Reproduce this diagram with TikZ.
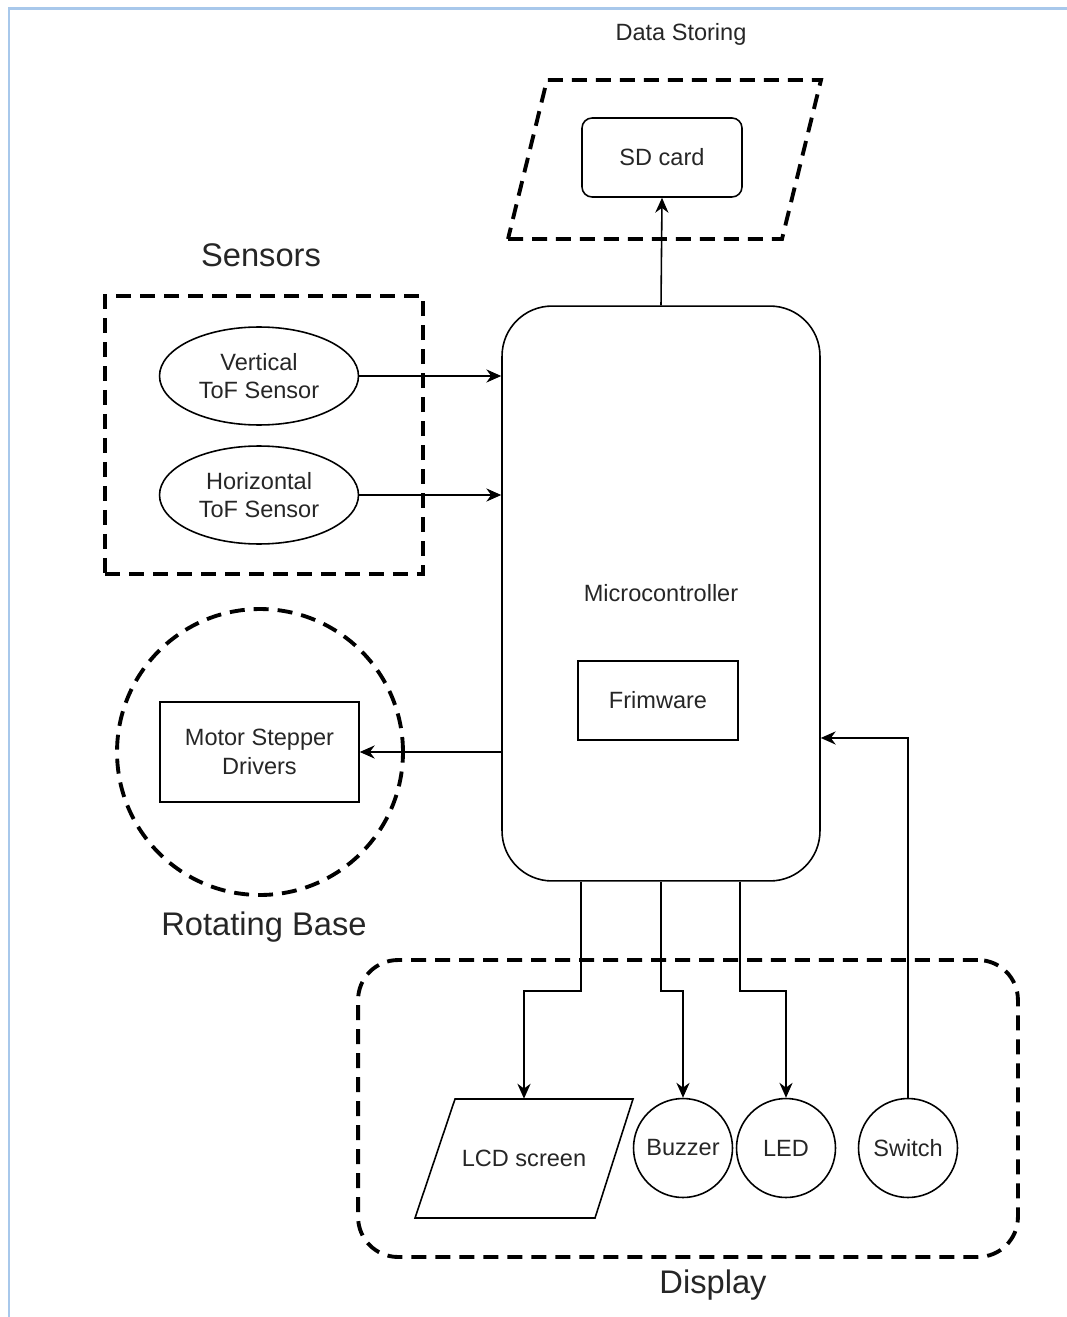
\documentclass[tikz,border=0pt]{standalone}
\usepackage{fontspec}
\setmainfont{Liberation Sans}
\usetikzlibrary{arrows.meta,shapes.geometric}

\begin{document}
\begin{tikzpicture}[x=0.02cm, y=-0.02cm, >={Stealth[length=8.5pt,width=7.5pt]},
  txt/.style={font=\fontsize{13.4}{16.4}\selectfont, align=center, text=black!85},
  bigtxt/.style={font=\fontsize{18.6}{22}\selectfont, text=black!85},
  part/.style={draw, line width=0.9pt, inner sep=0pt, txt},
  grp/.style={draw, line width=2.2pt, dash pattern=on 0.3cm off 0.18cm, inner sep=0pt},
  wire/.style={line width=0.9pt}]

\definecolor{framecolor}{RGB}{168, 200, 235}

\useasboundingbox (0, 0) rectangle (1067, 1317);
\draw[framecolor, line width=0.06cm] (9, 1317) -- (9, 9) -- (1067, 9);

\node[txt] (datalbl) at (681, 34) {Data Storing};
\draw[grp] (508, 239) -- (782, 239) -- (821, 80) -- (547, 80) -- cycle;
\node[part, rounded corners=0.2cm, minimum width=3.2cm, minimum height=1.58cm] (sd) at (662, 157.5) {SD card};

\node[bigtxt] (sensorslbl) at (261, 255) {Sensors};
\node[grp, minimum width=6.36cm, minimum height=5.56cm] (sensors) at (264, 435) {};
\node[part, ellipse, minimum width=3.98cm, minimum height=1.96cm] (vtof) at (259, 376) {Vertical\\ToF Sensor};
\node[part, ellipse, minimum width=3.98cm, minimum height=1.96cm] (htof) at (259, 495) {Horizontal\\ToF Sensor};

\node[part, rounded corners=1cm, minimum width=6.36cm, minimum height=11.5cm] (mcu) at (661, 593.5) {Microcontroller};
\node[part, minimum width=3.2cm, minimum height=1.58cm] (fw) at (658, 700.5) {Frimware};

\node[grp, circle, minimum size=5.72cm] (rotbase) at (260, 752) {};
\node[part, minimum width=3.98cm, minimum height=2cm] (motor) at (259.5, 752) {Motor Stepper\\Drivers};
\node[bigtxt] (rotlbl) at (264, 927) {Rotating Base};

\node[grp, rounded corners=0.8cm, minimum width=13.2cm, minimum height=5.94cm] (display) at (688, 1108.5) {};
\node[txt, minimum width=4.36cm, minimum height=2.38cm] (lcd) at (524, 1158.5) {LCD screen};
\draw[line width=0.9pt] (415, 1218) -- (595, 1218) -- (633, 1099) -- (455, 1099) -- cycle;
\node[part, circle, minimum size=1.98cm] (buzzer) at (683, 1148) {Buzzer};
\node[part, circle, minimum size=1.98cm] (led) at (786, 1148) {LED};
\node[part, circle, minimum size=1.98cm] (switch) at (908, 1148) {Switch};
\node[bigtxt] (displbl) at (713, 1285) {Display};

\draw[wire, ->] (mcu.north) -- (sd.south);
\draw[wire, ->] (vtof.east) -- (vtof.east -| mcu.west);
\draw[wire, ->] (htof.east) -- (htof.east -| mcu.west);
\draw[wire, ->] (motor.east -| mcu.west) -- (motor.east);
\draw[wire, ->] ([xshift=-1.6cm]mcu.south) -- ++(0, 109) -| (lcd.north);
\draw[wire, ->] (mcu.south) -- ++(0, 109) -| (buzzer.north);
\draw[wire, ->] ([xshift=1.58cm]mcu.south) -- ++(0, 109) -| (led.north);
\draw[wire, ->] (switch.north) |- ([yshift=-2.89cm]mcu.east);

\end{tikzpicture}
\end{document}
